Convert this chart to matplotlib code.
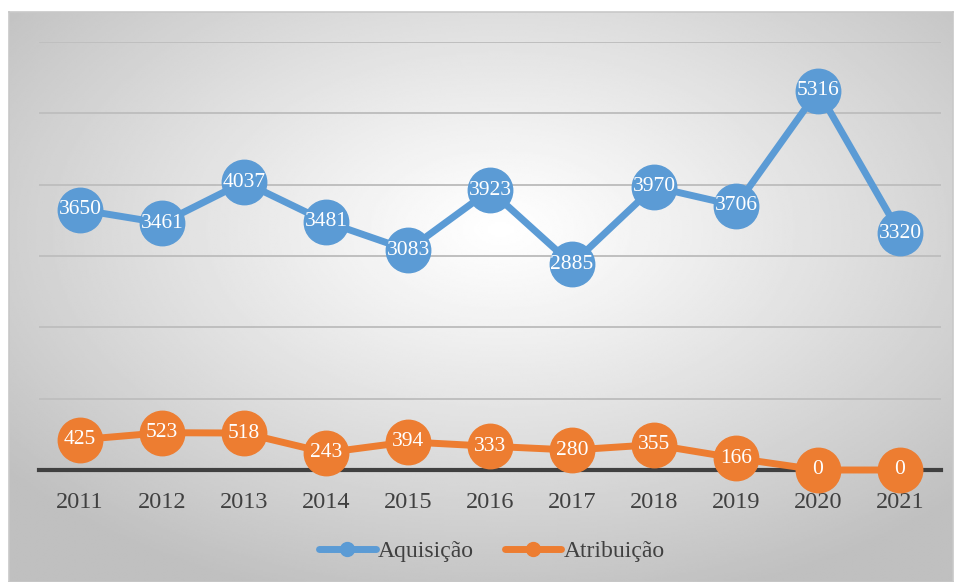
import numpy as np
import matplotlib.pyplot as plt

plt.rcParams['font.family'] = ['Liberation Serif', 'DejaVu Serif']

years = ['2011', '2012', '2013', '2014', '2015', '2016', '2017', '2018', '2019', '2020', '2021']
aquisicao = [3650, 3461, 4037, 3481, 3083, 3923, 2885, 3970, 3706, 5316, 3320]
atribuicao = [425, 523, 518, 243, 394, 333, 280, 355, 166, 0, 0]

blue = '#5B9BD5'
orange = '#ED7D31'

W, H = 957, 582
fig = plt.figure(figsize=(W / 100, H / 100), dpi=100)

# radial gradient background inside the chart frame
fx0, fx1, fy0, fy1 = 9, 953, 12, 582
bg = fig.add_axes([fx0 / W, 0, (fx1 - fx0) / W, (fy1 - fy0) / H])
yy, xx = np.mgrid[0:300, 0:500]
cx, cy = 500 * 0.52, 300 * 0.38
r = np.sqrt(((xx - cx) / 500) ** 2 + ((yy - cy) / 300) ** 2)
shade = 1.0 - 0.25 * np.clip(r / 0.68, 0, 1) ** 1.1
bg.imshow(shade, cmap='gray', vmin=0, vmax=1, aspect='auto', interpolation='bilinear')
bg.set_xticks([])
bg.set_yticks([])
for s in bg.spines.values():
    s.set_color('#c8c8c8')
    s.set_linewidth(1.2)

# main plot area
ax = fig.add_axes([39 / W, (H - 470) / H, (941 - 39) / W, (470 - 42) / H])
ax.set_facecolor('none')
x = np.arange(len(years))
ax.set_xlim(-0.5, len(years) - 0.5)
ax.set_ylim(0, 6000)
ax.set_yticks(np.arange(0, 6001, 1000))
ax.yaxis.grid(True, color='#bfbfbf', linewidth=1.4)
ax.set_axisbelow(True)
for s in ax.spines.values():
    s.set_visible(False)
ax.axhline(0, color='#404040', linewidth=3, zorder=2, clip_on=False)
ax.tick_params(axis='y', length=0, labelleft=False)
ax.tick_params(axis='x', length=0, pad=16, labelsize=17.5, labelcolor='#404040')
ax.set_xticks(x)
ax.set_xticklabels(years)

ax.plot(x, aquisicao, color=blue, linewidth=5, marker='o', markersize=32,
        label='Aquisição', clip_on=False, zorder=3)
ax.plot(x, atribuicao, color=orange, linewidth=5, marker='o', markersize=32,
        label='Atribuição', clip_on=False, zorder=3)

for xi, v in zip(x, aquisicao):
    ax.text(xi, v, str(v), color='white', fontsize=15.5, ha='center', va='center', zorder=4)
for xi, v in zip(x, atribuicao):
    ax.text(xi, v, str(v), color='white', fontsize=15.5, ha='center', va='center', zorder=4)

h1, = ax.plot([], [], color=blue, linewidth=5, marker='o', markersize=10, solid_capstyle='round')
h2, = ax.plot([], [], color=orange, linewidth=5, marker='o', markersize=10, solid_capstyle='round')
fig.legend([h1, h2], ['Aquisição', 'Atribuição'], loc='center', bbox_to_anchor=(492 / W, 1 - 551 / H),
           ncol=2, frameon=False, fontsize=17, handlelength=2.4, handletextpad=0.1,
           columnspacing=1.3, labelcolor='#404040')

plt.savefig('out.png', dpi=100)
